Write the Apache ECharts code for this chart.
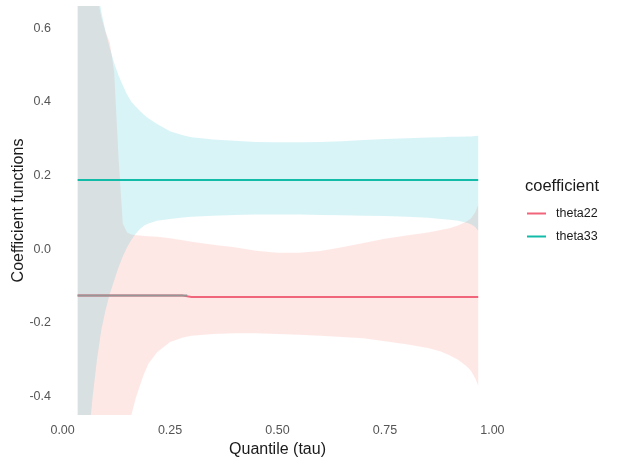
<!DOCTYPE html>
<html>
<head>
<meta charset="utf-8">
<script src="https://cdn.jsdelivr.net/npm/echarts@6/dist/echarts.min.js"></script>
<style>
html,body{margin:0;padding:0;background:#fff;}
#chart{width:618px;height:465px;}
</style>
</head>
<body>
<div id="chart"></div>
<script>
const tau = [0.035, 0.05, 0.06, 0.07, 0.08, 0.09, 0.1, 0.11, 0.12, 0.13, 0.14, 0.15, 0.16, 0.17, 0.18, 0.19, 0.2, 0.22, 0.25, 0.28, 0.3, 0.35, 0.4, 0.45, 0.5, 0.55, 0.6, 0.65, 0.7, 0.75, 0.8, 0.85, 0.88, 0.9, 0.92, 0.94, 0.95, 0.96, 0.967];

const theta22Hi = [1.0, 0.9, 0.83, 0.76, 0.69, 0.63, 0.59, 0.56, 0.48, 0.25, 0.07, 0.045, 0.04, 0.038, 0.037, 0.036, 0.035, 0.034, 0.03, 0.024, 0.02, 0.012, 0.005, -0.004, -0.01, -0.01, -0.005, 0.005, 0.017, 0.028, 0.037, 0.045, 0.052, 0.057, 0.064, 0.075, 0.083, 0.1, 0.12];
const theta22Lo = [-1.0, -0.95, -0.9, -0.86, -0.82, -0.77, -0.72, -0.67, -0.62, -0.57, -0.53, -0.5, -0.45, -0.405, -0.37, -0.337, -0.31, -0.28, -0.252, -0.24, -0.235, -0.23, -0.228, -0.228, -0.23, -0.232, -0.235, -0.238, -0.242, -0.25, -0.258, -0.268, -0.278, -0.288, -0.3, -0.318, -0.33, -0.35, -0.37];
const theta33Hi = [1.0, 0.95, 0.88, 0.8, 0.72, 0.645, 0.59, 0.545, 0.505, 0.472, 0.445, 0.42, 0.4, 0.387, 0.375, 0.364, 0.355, 0.34, 0.32, 0.309, 0.304, 0.298, 0.294, 0.291, 0.29, 0.29, 0.291, 0.293, 0.296, 0.299, 0.301, 0.303, 0.304, 0.305, 0.305, 0.306, 0.306, 0.307, 0.308];
const theta33Lo = [-0.9, -0.68, -0.52, -0.4, -0.3, -0.22, -0.165, -0.12, -0.085, -0.05, -0.02, 0.005, 0.025, 0.042, 0.055, 0.064, 0.07, 0.077, 0.082, 0.086, 0.088, 0.091, 0.093, 0.094, 0.094, 0.094, 0.093, 0.092, 0.091, 0.09, 0.088, 0.085, 0.082, 0.08, 0.077, 0.072, 0.068, 0.06, 0.05];

// coefficient lines
const lineTau = [0.035, 0.28, 0.3, 0.967];
const theta22 = [-0.126, -0.126, -0.13, -0.13];
const theta33 = [0.188, 0.188, 0.188, 0.188];

// segment of theta22 line that appears grey in the reference
const greyTau = [0.035, 0.29];
const greyVal = [-0.126, -0.126];

const xTicks = [0, 0.25, 0.5, 0.75, 1.0];
const yTicks = [-0.4, -0.2, 0, 0.2, 0.4, 0.6];

const RED = '#F0657A';
const TEAL = '#12BBA8';

function band(name, lo, hi, fill) {
  return {
    name: name, type: 'custom', clip: true, silent: true, z: 1,
    data: tau.map((t, i) => [t, lo[i], hi[i]]),
    encode: { x: 0, y: [1, 2] },
    renderItem: function (params, api) {
      if (params.dataIndex !== 0) return null;
      const pts = [];
      for (let i = 0; i < tau.length; i++) pts.push(api.coord([tau[i], hi[i]]));
      for (let i = tau.length - 1; i >= 0; i--) pts.push(api.coord([tau[i], lo[i]]));
      return {
        type: 'polygon',
        shape: { points: pts },
        style: { fill: fill, stroke: null }
      };
    }
  };
}

const chart = echarts.init(document.getElementById('chart'), null, { renderer: 'canvas' });
const FONT = 'Liberation Sans, Arial, sans-serif';

chart.setOption({
  animation: false,
  backgroundColor: '#ffffff',
  title: {
    text: 'coefficient', left: 520, top: 173,
    textStyle: { fontFamily: FONT, fontSize: 16.5, fontWeight: 'normal', color: '#1a1a1a' }
  },
  legend: {
    data: ['theta22', 'theta33'],
    orient: 'vertical', left: 527, top: 207, padding: 0,
    icon: 'rect',
    itemWidth: 19, itemHeight: 2, itemGap: 10,
    textStyle: { fontFamily: FONT, fontSize: 12.5, color: '#1a1a1a', padding: [0, 0, 0, 5] }
  },
  grid: { left: 54, top: 6, width: 447, height: 409, containLabel: false, outerBoundsMode: 'none' },
  xAxis: {
    type: 'value', min: -0.02, max: 1.02,
    name: 'Quantile (tau)', nameLocation: 'middle', nameGap: 25,
    nameTextStyle: { fontFamily: FONT, fontSize: 16, color: '#1a1a1a', verticalAlign: 'top' },
    axisLine: { show: false }, axisTick: { show: false }, splitLine: { show: false },
    axisLabel: {
      customValues: xTicks, margin: 9,
      alignMinLabel: 'center', alignMaxLabel: 'center',
      formatter: v => v.toFixed(2),
      fontFamily: FONT, fontSize: 12.5, color: '#555555'
    }
  },
  yAxis: {
    type: 'value', min: -0.45, max: 0.66,
    name: 'Coefficient functions', nameLocation: 'middle', nameGap: 27,
    nameMoveOverlap: false,
    nameTextStyle: { fontFamily: FONT, fontSize: 16, color: '#1a1a1a' },
    axisLine: { show: false }, axisTick: { show: false }, splitLine: { show: false },
    axisLabel: {
      customValues: yTicks, margin: 3,
      formatter: v => v.toFixed(1),
      fontFamily: FONT, fontSize: 12.5, color: '#555555'
    }
  },
  series: [
    band('r22', theta22Lo, theta22Hi, 'rgba(248,118,109,0.17)'),
    band('r33', theta33Lo, theta33Hi, 'rgba(0,180,200,0.15)'),
    {
      name: 'theta22', type: 'line', data: lineTau.map((t, i) => [t, theta22[i]]),
      symbol: 'none', color: RED, lineStyle: { color: RED, width: 2 }, z: 3
    },
    {
      name: 'greyseg', type: 'line', data: greyTau.map((t, i) => [t, greyVal[i]]),
      symbol: 'none', lineStyle: { color: '#969696', width: 2 }, z: 4
    },
    {
      name: 'theta33', type: 'line', data: lineTau.map((t, i) => [t, theta33[i]]),
      symbol: 'none', color: TEAL, lineStyle: { color: TEAL, width: 2 }, z: 3
    }
  ]
});
</script>
</body>
</html>
